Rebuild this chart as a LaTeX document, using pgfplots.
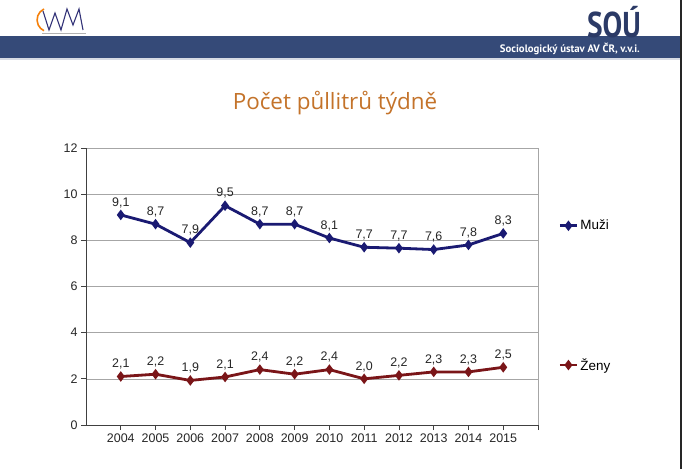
\documentclass[border=0pt]{standalone}
\usepackage{fontspec}
\setmainfont{Liberation Sans}
\newfontfamily\titlefont{Open Sans}
\newfontfamily\headfont{PT Sans}
\usepackage{graphicx}
\usepackage{pgfplots}
\pgfplotsset{compat=1.18}
\definecolor{band}{HTML}{354A78}
\definecolor{muzi}{HTML}{1A1A72}
\definecolor{zeny}{HTML}{7A1518}
\definecolor{titleor}{HTML}{C4732A}
\definecolor{gridg}{HTML}{A6A6A6}
\definecolor{logoblue}{HTML}{2B3A66}
\begin{document}
\begin{tikzpicture}
\useasboundingbox (0,0) rectangle (682bp,469bp);
\fill[white] (0,0) rectangle (682bp,469bp);
% header band
\fill[band] (0,411bp) rectangle (680bp,433bp);
\fill[band!20] (0,409bp) rectangle (680bp,411bp);
\fill[black!85] (680bp,0) rectangle (682bp,469bp);
\node[anchor=base east, text=white, inner sep=0pt, font=\headfont\bfseries\fontsize{10.8}{12}\selectfont] at (640bp,416bp) {Sociologický ústav AV ČR, v.v.i.};
\node[anchor=south east, text=logoblue, inner sep=0pt, font=\headfont\bfseries\fontsize{36}{36}\selectfont] at (641bp,431bp) {\scalebox{0.82}[1]{SOÚ}};
% left logo
\draw[orange!85!brown, line width=1.6bp] (44bp,460bp) arc[start angle=115, end angle=245, radius=12bp];
\draw[black!55!blue!60!gray, line width=1.1bp, line join=miter] (43bp,458bp) -- (49bp,439bp) -- (55bp,456bp) -- (61bp,439bp) -- (67bp,460bp) -- (73bp,444bp) -- (79bp,460bp) -- (83bp,439bp);
\draw[gray!60, line width=0.6bp] (42bp,436bp) -- (86bp,436bp);
% title
\node[text=titleor, font=\titlefont\fontsize{22.5}{26}\selectfont] at (335bp,366bp) {Počet půllitrů týdně};
\begin{axis}[
  at={(86bp,44bp)}, anchor=south west,
  scale only axis, width=452bp, height=277bp,
  xmin=-1, xmax=12, ymin=0, ymax=12,
  xtick={0,...,11},
  xticklabels={2004,2005,2006,2007,2008,2009,2010,2011,2012,2013,2014,2015},
  extra x ticks={12}, extra x tick labels={},
  ytick={0,2,...,12},
  ymajorgrids, grid style={gridg, line width=0.6bp},
  axis x line*=bottom, axis y line*=left,
  axis line style={-, black!75, line width=0.8bp},
  tick align=outside, major tick length=5bp,
  tick style={black!75, line width=0.8bp},
  ticklabel style={font=\fontsize{12.5}{14}\selectfont, text=black!85},
  /pgf/number format/assume math mode=true,
  nodes near coords,
  every node near coord/.append style={font=\fontsize{12.5}{14}\selectfont, text=black!85, yshift=2.5bp,
     /pgf/number format/.cd, fixed, fixed zerofill, precision=1, use comma},
  legend style={at={(1.045,0.466)}, anchor=west, draw=none, fill=none,
     row sep=123bp, font=\fontsize{13.5}{15}\selectfont, inner sep=0pt},
  legend cell align=left,
  clip=false,
]
\addplot[muzi, line width=2.8bp, mark=diamond*, mark size=3bp] coordinates {
 (0,9.1) (1,8.7) (2,7.9) (3,9.5) (4,8.7) (5,8.7) (6,8.1) (7,7.7) (8,7.66) (9,7.6) (10,7.8) (11,8.3)};
\addlegendentry{Muži}
\addplot[zeny, line width=2.8bp, mark=diamond*, mark size=3bp] coordinates {
 (0,2.1) (1,2.2) (2,1.93) (3,2.08) (4,2.4) (5,2.2) (6,2.4) (7,2.0) (8,2.15) (9,2.3) (10,2.3) (11,2.5)};
\addlegendentry{Ženy}
\draw[gridg, line width=0.6bp] (rel axis cs:1,0) -- (rel axis cs:1,1);
\end{axis}
\end{tikzpicture}
\end{document}
